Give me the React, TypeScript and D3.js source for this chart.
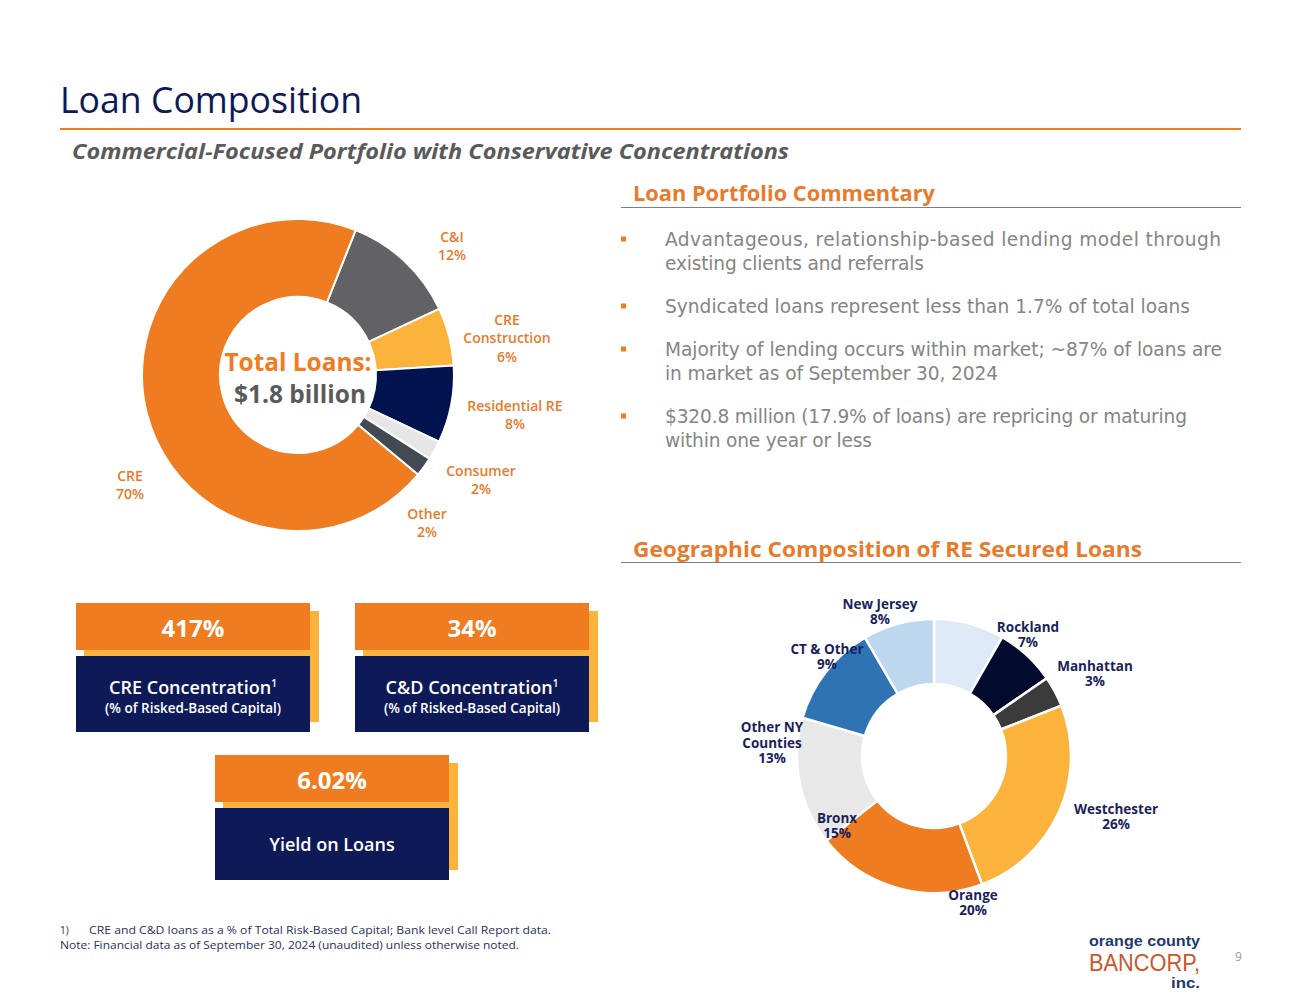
import React, { useEffect } from "react";
import * as d3 from "d3";

// --- Data ---
const loanCategories = ["C&I", "CRE Construction", "Residential RE", "Consumer", "Other", "CRE"];
const loanShares = [12, 6, 8, 2, 2, 70];
const loanLabelLines = [["C&I"], ["CRE", "Construction"], ["Residential RE"], ["Consumer"], ["Other"], ["CRE"]];

const geoRegions = ["New Jersey", "Rockland", "Manhattan", "Westchester", "Orange", "Bronx", "Other NY Counties", "CT & Other"];
// slice sizes as drawn (measured off the ring, in %)
const geoSlices = [8.3, 7.1, 3.6, 25.3, 20.1, 15.1, 12.1, 8.4];
// percentages as printed on the labels
const geoPrinted = [8, 7, 3, 26, 20, 15, 13, 9];
const geoLabelLines = [["New Jersey"], ["Rockland"], ["Manhattan"], ["Westchester"], ["Orange"], ["Bronx"], ["Other NY", "Counties"], ["CT & Other"]];

const bullets = [
  ["Advantageous, relationship-based lending model through", "existing clients and referrals"],
  ["Syndicated loans represent less than 1.7% of total loans"],
  ["Majority of lending occurs within market; ~87% of loans are", "in market as of September 30, 2024"],
  ["$320.8 million (17.9% of loans) are repricing or maturing", "within one year or less"],
];

const kpiValues = ["417%", "34%", "6.02%"];
const kpiTitles = ["CRE Concentration", "C&D Concentration", "Yield on Loans"];
const kpiNotes = ["(% of Risked-Based Capital)", "(% of Risked-Based Capital)", ""];
const kpiFootnoted = [true, true, false];

const footnotes = [
  "CRE and C&D loans as a % of Total Risk-Based Capital; Bank level Call Report data.",
  "Note: Financial data as of September 30, 2024 (unaudited) unless otherwise noted.",
];

// --- Colours ---
const ORANGE = "#F07C21";
const ORANGE_TXT = "#EA7A2A";
const NAVY = "#0E1A57";
const YELLOW = "#FBB33B";
const GREY_TXT = "#5A5A5A";
const BULLET_TXT = "#858585";

const loanColors = ["#626165", YELLOW, "#01134F", "#E6E6E6", "#434A54", ORANGE];
const geoColors = ["#DDE9F6", "#020B2E", "#3B3B3B", YELLOW, ORANGE, "#E8E8E8", "#2E73B4", "#BDD7EE"];

// label placement around each ring (offsets from ring centre)
const loanLabelPos = [
  { dx: 154, dy: -129 },
  { dx: 209, dy: -37 },
  { dx: 217, dy: 40 },
  { dx: 183, dy: 105 },
  { dx: 129, dy: 148 },
  { dx: -168, dy: 110 },
];
const geoLabelPos = [
  { dx: -54, dy: -144 },
  { dx: 94, dy: -121 },
  { dx: 161, dy: -82 },
  { dx: 182, dy: 61 },
  { dx: 39, dy: 147 },
  { dx: -97, dy: 70 },
  { dx: -162, dy: -13 },
  { dx: -107, dy: -99 },
];
// set widths of each commentary line (layout only)
const bulletLineWidths = [
  [556, 259],
  [525],
  [557, 333],
  [522, 207],
];

const FONT = "'Open Sans', 'DejaVu Sans', sans-serif";
const deg = (d: number) => (d * Math.PI) / 180;

const App: React.FC = () => {
  useEffect(() => {
    document.body.style.margin = "0";
    document.body.style.overflow = "hidden";
  }, []);

  // Left ring: loan mix
  const loanCx = 298;
  const loanCy = 375;
  const loanStart = deg(21.7);
  const loanPie = d3
    .pie<number>()
    .sort(null)
    .startAngle(loanStart)
    .endAngle(loanStart + 2 * Math.PI)(loanShares);
  const loanArc = d3.arc<d3.PieArcDatum<number>>().innerRadius(78).outerRadius(156);

  // Right ring: geography
  const geoCx = 934;
  const geoCy = 756;
  const geoPie = d3.pie<number>().sort(null)(geoSlices);
  const geoArc = d3.arc<d3.PieArcDatum<number>>().innerRadius(72).outerRadius(137);

  const boxes = [
    { x: 76, y: 603, navyH: 76 },
    { x: 355, y: 603, navyH: 76 },
    { x: 215, y: 755, navyH: 72 },
  ];
  const boxW = 234;
  const orangeH = 47;
  const gap = 6;

  const bulletLineH = 24;
  const bulletStarts = [246, 313, 356, 423];

  return (
    <svg width={1300} height={1005} style={{ display: "block", background: "#fff", fontFamily: FONT }}>
      {/* Title */}
      <text x={60} y={113} fontSize={36} fill={NAVY} textLength={302} lengthAdjust="spacingAndGlyphs">
        Loan Composition
      </text>
      <line x1={60} x2={1241} y1={129} y2={129} stroke={ORANGE} strokeWidth={2} />
      <text
        x={72}
        y={159}
        fontSize={22}
        fontStyle="italic"
        fontWeight={700}
        fill={GREY_TXT}
        textLength={717}
        lengthAdjust="spacingAndGlyphs"
      >
        Commercial-Focused Portfolio with Conservative Concentrations
      </text>

      {/* Loan mix ring */}
      <g transform={`translate(${loanCx},${loanCy})`}>
        {loanPie.map((d, i) => (
          <path key={loanCategories[i]} d={loanArc(d) || ""} fill={loanColors[i]} stroke="#fff" strokeWidth={2} />
        ))}
        <text textAnchor="middle" fontSize={25} fontWeight={700}>
          <tspan x={0} y={-4} fill={ORANGE} textLength={147} lengthAdjust="spacingAndGlyphs">
            Total Loans:
          </tspan>
          <tspan x={2} y={28} fill={GREY_TXT} textLength={132} lengthAdjust="spacingAndGlyphs">
            $1.8 billion
          </tspan>
        </text>
        {loanCategories.map((c, i) => {
          const lines = [...loanLabelLines[i], `${loanShares[i]}%`];
          const lh = 18.5;
          const p = loanLabelPos[i];
          return (
            <text key={c} textAnchor="middle" fontSize={14} fontWeight={600} fill={ORANGE_TXT}>
              {lines.map((l, j) => (
                <tspan key={j} x={p.dx} y={p.dy + (j - (lines.length - 1) / 2) * lh + 5}>
                  {l}
                </tspan>
              ))}
            </text>
          );
        })}
      </g>

      {/* Commentary */}
      <text x={633} y={201} fontSize={22} fontWeight={700} fill={ORANGE_TXT} textLength={302} lengthAdjust="spacingAndGlyphs">
        Loan Portfolio Commentary
      </text>
      <line x1={621} x2={1241} y1={207.5} y2={207.5} stroke="#7F7F7F" strokeWidth={1.2} />
      {bullets.map((b, i) => (
        <g key={i}>
          <rect x={621} y={bulletStarts[i] - 9.5} width={5} height={5} fill={ORANGE} />
          <text fontSize={18.6} fontFamily="'DejaVu Sans', sans-serif" fill={BULLET_TXT}>
            {b.map((l, j) => (
              <tspan
                key={j}
                x={665}
                y={bulletStarts[i] + j * bulletLineH}
                textLength={bulletLineWidths[i][j]}
                lengthAdjust="spacing"
              >
                {l}
              </tspan>
            ))}
          </text>
        </g>
      ))}

      {/* Geography */}
      <text x={633} y={557} fontSize={22} fontWeight={700} fill={ORANGE_TXT} textLength={509} lengthAdjust="spacingAndGlyphs">
        Geographic Composition of RE Secured Loans
      </text>
      <line x1={621} x2={1241} y1={562.5} y2={562.5} stroke="#7F7F7F" strokeWidth={1.2} />
      <g transform={`translate(${geoCx},${geoCy})`}>
        {geoPie.map((d, i) => (
          <path key={geoRegions[i]} d={geoArc(d) || ""} fill={geoColors[i]} stroke="#fff" strokeWidth={2.5} />
        ))}
        {geoRegions.map((r, i) => {
          const lines = [...geoLabelLines[i], `${geoPrinted[i]}%`];
          const lh = 15.5;
          const p = geoLabelPos[i];
          return (
            <text key={r} textAnchor="middle" fontSize={13.5} fontWeight={700} fill="#1B1F5B">
              {lines.map((l, j) => (
                <tspan key={j} x={p.dx} y={p.dy + (j - (lines.length - 1) / 2) * lh + 4.5}>
                  {l}
                </tspan>
              ))}
            </text>
          );
        })}
      </g>

      {/* KPI boxes */}
      {boxes.map((b, i) => {
        const navyY = b.y + orangeH + gap;
        const total = orangeH + gap + b.navyH;
        const cx = b.x + boxW / 2;
        const hasNote = kpiNotes[i] !== "";
        return (
          <g key={kpiTitles[i]}>
            <rect x={b.x + 8} y={b.y + 8} width={boxW + 1} height={total - 18} fill={YELLOW} />
            <rect x={b.x} y={b.y} width={boxW} height={orangeH} fill={ORANGE} />
            <rect x={b.x} y={navyY} width={boxW} height={b.navyH} fill={NAVY} />
            <text x={cx} y={b.y + 34} textAnchor="middle" fontSize={24} fontWeight={700} fill="#fff">
              {kpiValues[i]}
            </text>
            <text textAnchor="middle" fontWeight={600} fill="#fff">
              <tspan x={cx} y={hasNote ? navyY + 38 : navyY + 43} fontSize={18}>
                {kpiTitles[i]}
              </tspan>
              {kpiFootnoted[i] && (
                <tspan fontSize={10} dy={-7}>
                  1
                </tspan>
              )}
              {hasNote && (
                <tspan x={cx} y={navyY + 57} fontSize={13.5}>
                  {kpiNotes[i]}
                </tspan>
              )}
            </text>
          </g>
        );
      })}

      {/* Footnotes */}
      <text fontSize={10} fill="#2A2F5E">
        <tspan x={60} y={934}>1)</tspan>
        <tspan x={89} y={934} textLength={462} lengthAdjust="spacingAndGlyphs">
          {footnotes[0]}
        </tspan>
        <tspan x={60} y={949} textLength={459} lengthAdjust="spacingAndGlyphs">
          {footnotes[1]}
        </tspan>
      </text>

      {/* Logo */}
      <text fontFamily="'Liberation Sans Narrow', 'Liberation Sans', sans-serif">
        <tspan x={1089} y={946} fontSize={15} fontWeight={700} fill="#1F3A70" textLength={111} lengthAdjust="spacingAndGlyphs">
          orange county
        </tspan>
        <tspan x={1089} y={970.5} fontSize={23} fill="#C9582C" textLength={111} lengthAdjust="spacingAndGlyphs">
          BANCORP,
        </tspan>
        <tspan x={1171} y={988} fontSize={14} fontWeight={700} fill="#1F3A70" textLength={29} lengthAdjust="spacingAndGlyphs">
          inc.
        </tspan>
      </text>
      <text x={1235} y={961} fontSize={12} fill="#9A9A9A">
        9
      </text>
    </svg>
  );
};

export default App;
